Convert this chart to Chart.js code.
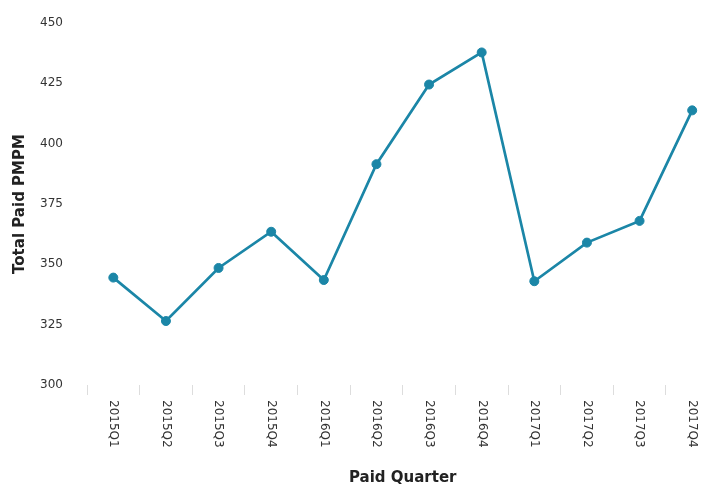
<!DOCTYPE html>
<html>
<head>
<meta charset="utf-8">
<script src="https://cdn.jsdelivr.net/npm/chart.js@4/dist/chart.umd.min.js"></script>
<style>
html,body{margin:0;padding:0;background:#fff;overflow:hidden;}
#wrap{width:724px;height:487px;position:relative;}
</style>
</head>
<body>
<div id="wrap"><canvas id="c"></canvas></div>
<script>
const categories = ['2015Q1','2015Q2','2015Q3','2015Q4','2016Q1','2016Q2','2016Q3','2016Q4','2017Q1','2017Q2','2017Q3','2017Q4'];
const totalPaidPMPM = [344.5, 326.5, 348.5, 363.5, 343.5, 391.5, 424.5, 437.8, 343, 359, 368, 413.8];
const yTicks = [300, 325, 350, 375, 400, 425, 450];

const lineColor = '#1b86a7';

const rotatedLabels = {
  id: 'rotatedLabels',
  afterDraw(chart) {
    const ctx = chart.ctx;
    const xs = chart.scales.x;
    const top = chart.chartArea.bottom + 15;
    ctx.save();
    ctx.font = '12px "DejaVu Sans"';
    ctx.fillStyle = '#333';
    ctx.textAlign = 'left';
    ctx.textBaseline = 'middle';
    chart.data.labels.forEach((lab, i) => {
      const x = xs.getPixelForTick(i);
      ctx.save();
      ctx.translate(x, top);
      ctx.rotate(Math.PI / 2);
      ctx.fillText(lab, 0, 0);
      ctx.restore();
    });
    ctx.restore();
  }
};

new Chart(document.getElementById('c'), {
  type: 'line',
  data: {
    labels: categories,
    datasets: [{
      data: totalPaidPMPM,
      borderColor: lineColor,
      backgroundColor: lineColor,
      borderWidth: 2.7,
      pointRadius: 4.5,
      pointHoverRadius: 4.5,
      pointBorderWidth: 1,
      pointBackgroundColor: lineColor,
      pointBorderColor: lineColor,
      tension: 0,
      fill: false
    }]
  },
  options: {
    responsive: true,
    maintainAspectRatio: false,
    animation: false,
    layout: { padding: { left: 11, right: 0, top: 23, bottom: 0 } },
    plugins: { legend: { display: false }, tooltip: { enabled: false } },
    scales: {
      x: {
        offset: true,
        grid: { display: true, drawOnChartArea: false, drawTicks: true, tickLength: 10, color: '#dddddd', offset: true },
        border: { display: false },
        ticks: { minRotation: 90, maxRotation: 90, color: 'rgba(0,0,0,0)', font: { family: 'DejaVu Sans', size: 12 }, padding: 6, autoSkip: false },
        title: { display: true, text: 'Paid Quarter', color: '#222', font: { family: 'DejaVu Sans', size: 15, weight: 'bold' }, padding: { top: 12, bottom: 0 } },
        afterFit(scale) { scale.height = 102; scale.paddingLeft = 0; scale.paddingRight = 0; }
      },
      y: {
        min: 300, max: 450,
        afterBuildTicks(scale) { scale.ticks = yTicks.map(v => ({ value: v })); },
        grid: { display: false, drawTicks: false },
        border: { display: false },
        ticks: { color: '#333', font: { family: 'DejaVu Sans', size: 12 }, padding: 24 },
        title: { display: true, text: 'Total Paid PMPM', color: '#222', font: { family: 'DejaVu Sans', size: 15, weight: 'bold' }, padding: { top: 0, bottom: 11 } },
        afterFit(scale) { scale.width = 76; scale.paddingTop = 0; scale.paddingBottom = 0; }
      }
    }
  },
  plugins: [rotatedLabels]
});
</script>
</body>
</html>
